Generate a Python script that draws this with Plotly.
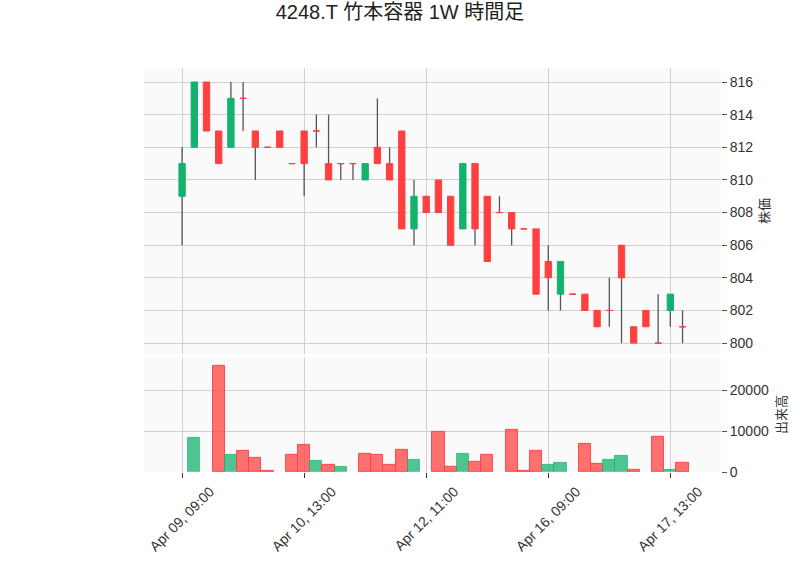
import plotly.graph_objects as go

title = "4248.T 竹本容器 1W 時間足"

days = ["2024-04-09", "2024-04-10", "2024-04-11", "2024-04-12", "2024-04-15", "2024-04-16", "2024-04-17"]
hours = ["09:00", "10:00", "11:00", "12:00", "13:00", "14:00"]
times = [f"{d} {h}" for d in days for h in hours]

opens = [809, 812, 816, 813, 812, 815, 813, 812, 813, 811,
         813, 813, 811, 811, 811, 810, 812, 811, 813, 807,
         809, 810, 809, 807, 811, 809, 808, 808, 807, 807,
         805, 803, 803, 803, 802, 802, 806, 801, 802, 800,
         802, 801]
highs = [812, 816, 816, 813, 816, 816, 813, 812, 813, 811,
         813, 814, 814, 811, 811, 811, 815, 812, 813, 810,
         809, 810, 809, 811, 811, 809, 809, 808, 807, 807,
         806, 805, 803, 803, 802, 804, 806, 801, 802, 803,
         803, 802]
lows = [806, 812, 813, 811, 812, 813, 810, 812, 812, 811,
        809, 812, 810, 810, 810, 810, 811, 810, 807, 806,
        808, 808, 806, 807, 806, 805, 808, 806, 807, 803,
        802, 802, 803, 802, 801, 801, 800, 800, 801, 800,
        801, 800]
closes = [811, 816, 813, 811, 815, 815, 812, 812, 812, 811,
          811, 813, 810, 811, 811, 811, 811, 810, 807, 809,
          808, 808, 806, 811, 807, 805, 808, 807, 807, 803,
          804, 805, 803, 802, 801, 802, 804, 800, 801, 800,
          803, 801]
volumes = [0, 8400, 0, 26000, 4100, 5100, 3400, 250, 0, 4100,
           6600, 2700, 1650, 1250, 0, 4450, 4100, 1650, 5450, 3000,
           0, 9900, 1250, 4450, 2500, 4200, 0, 10400, 250, 5200,
           1750, 2200, 0, 6850, 1900, 3000, 3950, 500, 0, 8700,
           500, 2200]

tick_idx = [0, 10, 20, 30, 40]
tick_text = ["Apr 09, 09:00", "Apr 10, 13:00", "Apr 12, 11:00", "Apr 16, 09:00", "Apr 17, 13:00"]

GREEN = "rgb(20,178,110)"
RED = "rgb(255,64,64)"
GREEN_A = "rgba(20,178,110,0.75)"
RED_A = "rgba(255,64,64,0.75)"
FONT = "Liberation Sans, Noto Sans CJK JP, sans-serif"

n = len(times)
body_hi = [max(o, c) for o, c in zip(opens, closes)]
body_lo = [min(o, c) for o, c in zip(opens, closes)]
up = [c > o for o, c in zip(opens, closes)]

fig = go.Figure()

# wicks (drawn beneath the bodies)
wx, wy = [], []
for t, h, l in zip(times, highs, lows):
    wx += [t, t, None]
    wy += [l, h, None]
fig.add_trace(go.Scatter(x=wx, y=wy, mode="lines", line=dict(color="#555555", width=1.3),
                         hoverinfo="skip", showlegend=False, xaxis="x", yaxis="y", zorder=-1))


def sel(vals, mask):
    return [v if m else None for v, m in zip(vals, mask)]


for mask, col in [(up, GREEN), ([not u for u in up], RED)]:
    fig.add_trace(go.Candlestick(
        x=times, open=sel(opens, mask), high=sel(body_hi, mask), low=sel(body_lo, mask),
        close=sel(closes, mask), whiskerwidth=0,
        increasing=dict(line=dict(color=col, width=1), fillcolor=col),
        decreasing=dict(line=dict(color=col, width=1), fillcolor=col),
        showlegend=False, xaxis="x", yaxis="y"))

vcol, vline, vlw = [], [], []
for i in range(n):
    rising = i > 0 and closes[i] > closes[i - 1]
    vcol.append(GREEN_A if rising else RED_A)
    vline.append("rgba(20,178,110,0.6)" if rising else "rgba(255,64,64,0.9)")
    vlw.append(1 if volumes[i] > 0 else 0)

fig.add_trace(go.Bar(x=times, y=volumes, marker=dict(color=vcol, line=dict(color=vline, width=vlw)),
                     showlegend=False, xaxis="x2", yaxis="y2"))

grid = "#d0d0d0"
tickvals = [times[i] for i in tick_idx]
xr = [-3.12, 44.15]

fig.update_layout(
    width=800, height=575,
    margin=dict(l=144, r=79, t=68, b=103),
    paper_bgcolor="white", plot_bgcolor="#fafafa",
    font=dict(family=FONT, size=14, color="#333333"),
    title=dict(text=title, x=0.5, xanchor="center", y=0.98, yanchor="middle", yref="container",
               font=dict(family=FONT, size=20, color="#222222")),
    bargap=0,
    boxgap=0.26,
    showlegend=False,
    xaxis=dict(type="category", domain=[0, 1], anchor="y", range=xr, tickvals=tickvals,
               showticklabels=False, showgrid=True, gridcolor=grid, gridwidth=1,
               rangeslider=dict(visible=False), ticks="", zeroline=False),
    xaxis2=dict(type="category", domain=[0, 1], anchor="y2", range=xr, matches="x",
                tickvals=tickvals, ticktext=tick_text, tickangle=-45, ticklabelshift=28,
                showgrid=True, gridcolor=grid, gridwidth=1, ticks="outside", ticklen=5,
                tickcolor="#333333", zeroline=False, tickfont=dict(size=14)),
    yaxis=dict(domain=[0.292, 1], anchor="x", side="right", range=[799.33, 816.86], dtick=2,
               tick0=800, showgrid=True, gridcolor=grid, gridwidth=1, ticks="outside", ticklen=5,
               tickcolor="#555555", zeroline=False,
               title=dict(text="株価", standoff=7, font=dict(size=13))),
    yaxis2=dict(domain=[0, 0.285], anchor="x2", side="right", range=[0, 28250], dtick=10000,
                tickformat="d",
                showgrid=True, gridcolor=grid, gridwidth=1, ticks="outside", ticklen=5,
                tickcolor="#555555", zeroline=False,
                title=dict(text="出来高", standoff=8, font=dict(size=13))),
)

fig.write_html("out.html", config={"displayModeBar": False},
               post_script="document.body.style.margin='0';")
